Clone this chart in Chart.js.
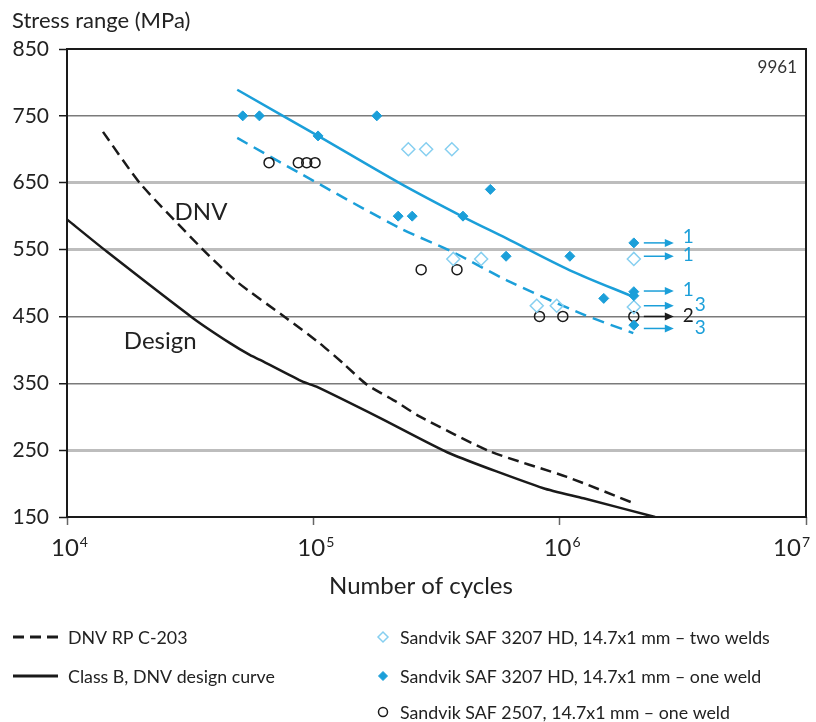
<!DOCTYPE html>
<html>
<head>
<meta charset="utf-8">
<script src="https://cdn.jsdelivr.net/npm/chart.js@4.4.0/dist/chart.umd.min.js"></script>
<style>
  html, body { margin: 0; padding: 0; background: #fff; }
</style>
</head>
<body>
<canvas id="sn" width="816" height="722"></canvas>
<script>
// S-N data (N = cycles, S = stress range in MPa)
const dnvN = [14000, 19800, 35200, 48900, 78000, 106000, 132000, 165000, 218000, 271000, 522000, 1070000, 2020000];
const dnvS = [726, 649, 552, 502, 447, 410, 380, 348, 322, 300, 248, 210, 170];

const designN = [10000, 14500, 32600, 45900, 55400, 60800, 91000, 103000, 187000, 359000, 859000, 1250000, 2440000];
const designS = [595, 547, 447, 410, 392, 385, 352, 345, 298, 245, 193, 178, 150];

const oneWeldFitN = [49100, 104500, 225000, 405000, 606000, 1100000, 2000000];
const oneWeldFitS = [789, 720, 649, 599, 567, 519, 479];

const twoWeldFitN = [49100, 88300, 225000, 370000, 610000, 1210000, 1990000];
const twoWeldFitS = [717, 664, 582, 546, 504, 455, 425];

const oneWeldN = [51700, 60400, 104500, 181000, 221000, 252000, 405000, 523000, 606000, 1100000, 1510000, 2000000, 2000000, 2000000, 2000000];
const oneWeldS = [750, 750, 720, 750, 600, 600, 600, 640, 540, 540, 477, 560, 487, 481, 437];

const twoWeldN = [243000, 287000, 365000, 370000, 480000, 807000, 973000, 2000000, 2000000];
const twoWeldS = [700, 700, 700, 536, 536, 466, 466, 536, 464];

const saf2507N = [66100, 86900, 94000, 101600, 274000, 383000, 828000, 1030000, 2000000];
const saf2507S = [680, 680, 680, 680, 520, 520, 450, 450, 450];

// run-outs at 2 million cycles: stress, number of specimens, series
const runoutN = 2000000;
const runoutS = [560, 540, 488, 466, 450, 432];
const runoutCount = ['1', '1', '1', '3', '2', '3'];
const runoutSeries = ['one', 'two', 'one', 'two', '2507', 'one'];

const xTicks = [1e4, 1e5, 1e6, 1e7];
const xTickExp = ['4', '5', '6', '7'];
const yTicks = [150, 250, 350, 450, 550, 650, 750, 850];

const FONT = 'Lato, "Open Sans", sans-serif';
const blue = '#1b9fd9';
const lightBlue = '#86cff0';
const black = '#1a1a1a';
const seriesColor = { one: blue, two: blue, '2507': black };

const pts = (xs, ys) => xs.map((x, i) => ({ x: x, y: ys[i] }));

// gridlines in the original are not all the same grey
function gridStyle(v) {
  if (v === 150 || v === 850) return { c: 'rgba(0,0,0,0)', w: 1 };
  if (v === 250 || v === 550 || v === 650) return { c: '#bdbdbd', w: 3 };
  return { c: '#7a7a7a', w: 1.5 };
}

function arrow(ctx, x1, x2, y, color) {
  ctx.save();
  ctx.strokeStyle = color;
  ctx.fillStyle = color;
  ctx.lineWidth = 1.5;
  ctx.beginPath();
  ctx.moveTo(x1, y);
  ctx.lineTo(x2 - 6, y);
  ctx.stroke();
  ctx.beginPath();
  ctx.moveTo(x2, y);
  ctx.lineTo(x2 - 9, y - 4);
  ctx.lineTo(x2 - 9, y + 4);
  ctx.closePath();
  ctx.fill();
  ctx.restore();
}

const decor = {
  id: 'decor',
  afterDraw(chart) {
    const ctx = chart.ctx;
    const a = chart.chartArea;
    const xs = chart.scales.x, ys = chart.scales.y;

    // frame
    ctx.save();
    ctx.strokeStyle = black;
    ctx.lineWidth = 2;
    ctx.strokeRect(a.left, a.top, a.right - a.left, a.bottom - a.top);
    ctx.restore();

    ctx.save();
    ctx.fillStyle = '#222';

    // y title
    ctx.font = '22px ' + FONT;
    ctx.textAlign = 'left';
    ctx.textBaseline = 'alphabetic';
    ctx.fillText('Stress range (MPa)', 12, 28);

    // x tick labels with exponent
    xTicks.forEach((v, i) => {
      const px = xs.getPixelForValue(v);
      ctx.font = '24px ' + FONT;
      const w1 = ctx.measureText('10').width;
      ctx.font = '14px ' + FONT;
      const w2 = ctx.measureText(xTickExp[i]).width;
      let x0 = px - (w1 + w2) / 2 + 2;
      if (x0 + w1 + w2 + 1 > 810) x0 = 810 - (w1 + w2 + 1);
      ctx.font = '24px ' + FONT;
      ctx.fillText('10', x0, 556);
      ctx.font = '14px ' + FONT;
      ctx.fillText(xTickExp[i], x0 + w1 + 1, 547);
    });

    // x title
    ctx.font = '24px ' + FONT;
    ctx.textAlign = 'center';
    ctx.fillText('Number of cycles', 421, 594);

    // figure number
    ctx.font = '17px ' + FONT;
    ctx.textAlign = 'right';
    ctx.fillStyle = '#333';
    ctx.fillText('9961', 797, 73);

    // curve names
    ctx.fillStyle = '#222';
    ctx.font = '24px ' + FONT;
    ctx.textAlign = 'center';
    ctx.textBaseline = 'middle';
    ctx.fillText('DNV', xs.getPixelForValue(35000), ys.getPixelForValue(606));
    ctx.fillText('Design', xs.getPixelForValue(23900), ys.getPixelForValue(413));

    // run-out arrows
    const rx = xs.getPixelForValue(runoutN);
    runoutS.forEach((s, i) => {
      const py = ys.getPixelForValue(s);
      const col = seriesColor[runoutSeries[i]];
      arrow(ctx, rx + 10, rx + 40, py, col);
      ctx.fillStyle = col;
      ctx.font = '19px ' + FONT;
      ctx.textAlign = 'left';
      ctx.textBaseline = 'middle';
      const off = runoutCount[i] === '3' ? 61 : 49;
      ctx.fillText(runoutCount[i], rx + off, py - (i === 0 ? 6 : 1));
    });

    // legend
    ctx.textAlign = 'left';
    ctx.textBaseline = 'middle';
    ctx.font = '17.8px ' + FONT;
    const lineItems = [chart.data.datasets[4], chart.data.datasets[3]];
    const rowsL = [637, 676];
    lineItems.forEach((ds, i) => {
      ctx.save();
      ctx.strokeStyle = ds.borderColor;
      ctx.lineWidth = 3;
      ctx.setLineDash(ds.borderDash || []);
      ctx.beginPath();
      ctx.moveTo(13, rowsL[i]);
      ctx.lineTo(58, rowsL[i]);
      ctx.stroke();
      ctx.restore();
      ctx.fillStyle = '#222';
      ctx.fillText(ds.label, 68, rowsL[i] + 1);
    });
    const markerItems = [chart.data.datasets[1], chart.data.datasets[0], chart.data.datasets[2]];
    const markerRadius = [5, 4.5, 4.5];
    const rowsR = [637, 676, 712];
    markerItems.forEach((ds, i) => {
      ctx.save();
      ctx.fillStyle = ds.backgroundColor;
      ctx.strokeStyle = ds.borderColor;
      ctx.lineWidth = ds.borderWidth;
      Chart.helpers.drawPoint(ctx, { pointStyle: ds.pointStyle, radius: markerRadius[i], borderWidth: ds.borderWidth, rotation: 0 }, 383, rowsR[i]);
      ctx.restore();
      ctx.fillStyle = '#222';
      ctx.fillText(ds.label, 400, rowsR[i] + 1);
    });
    ctx.restore();
  }
};

new Chart(document.getElementById('sn'), {
  type: 'scatter',
  data: {
    datasets: [
      {
        label: 'Sandvik SAF 3207 HD, 14.7x1 mm – one weld',
        data: pts(oneWeldN, oneWeldS),
        pointStyle: 'rectRot', pointRadius: 5,
        backgroundColor: blue, borderColor: blue, borderWidth: 1,
        order: 0
      },
      {
        label: 'Sandvik SAF 3207 HD, 14.7x1 mm – two welds',
        data: pts(twoWeldN, twoWeldS),
        pointStyle: 'rectRot', pointRadius: 6.5,
        backgroundColor: 'rgba(255,255,255,0)', borderColor: lightBlue, borderWidth: 1.5,
        order: 1
      },
      {
        label: 'Sandvik SAF 2507, 14.7x1 mm – one weld',
        data: pts(saf2507N, saf2507S),
        pointStyle: 'circle', pointRadius: 5,
        backgroundColor: 'rgba(255,255,255,0)', borderColor: black, borderWidth: 1.5,
        order: 1
      },
      {
        label: 'Class B, DNV design curve',
        data: pts(designN, designS),
        showLine: true, pointRadius: 0,
        borderColor: black, borderWidth: 2.5, tension: 0.2,
        order: 2
      },
      {
        label: 'DNV RP C-203',
        data: pts(dnvN, dnvS),
        showLine: true, pointRadius: 0,
        borderColor: black, borderWidth: 2.5, borderDash: [11, 6], tension: 0.2,
        order: 2
      },
      {
        label: 'one weld fit',
        data: pts(oneWeldFitN, oneWeldFitS),
        showLine: true, pointRadius: 0,
        borderColor: blue, borderWidth: 2.5, tension: 0.3,
        order: 2
      },
      {
        label: 'two welds fit',
        data: pts(twoWeldFitN, twoWeldFitS),
        showLine: true, pointRadius: 0,
        borderColor: blue, borderWidth: 2.5, borderDash: [12, 7], tension: 0.3,
        order: 2
      }
    ]
  },
  options: {
    responsive: false,
    animation: false,
    layout: { padding: { top: 49, right: 10, bottom: 197, left: 0 } },
    plugins: { legend: { display: false }, tooltip: { enabled: false } },
    scales: {
      x: {
        type: 'logarithmic', min: 1e4, max: 1e7,
        afterBuildTicks: (s) => { s.ticks = xTicks.map((v) => ({ value: v })); },
        ticks: { display: false },
        grid: { drawOnChartArea: false, drawTicks: true, tickLength: 8, tickColor: '#666', tickWidth: 1.5 },
        border: { display: false },
        afterFit: (s) => { s.height = 8; }
      },
      y: {
        min: 150, max: 850,
        afterBuildTicks: (s) => { s.ticks = yTicks.map((v) => ({ value: v })); },
        ticks: { font: { family: FONT, size: 21 }, color: '#222', padding: 10 },
        grid: {
          color: (c) => gridStyle(c.tick.value).c,
          lineWidth: (c) => gridStyle(c.tick.value).w,
          tickColor: black, tickWidth: 1.5, tickLength: 8
        },
        border: { display: false },
        afterFit: (s) => { s.width = 67; }
      }
    }
  },
  plugins: [decor]
});
</script>
</body>
</html>
